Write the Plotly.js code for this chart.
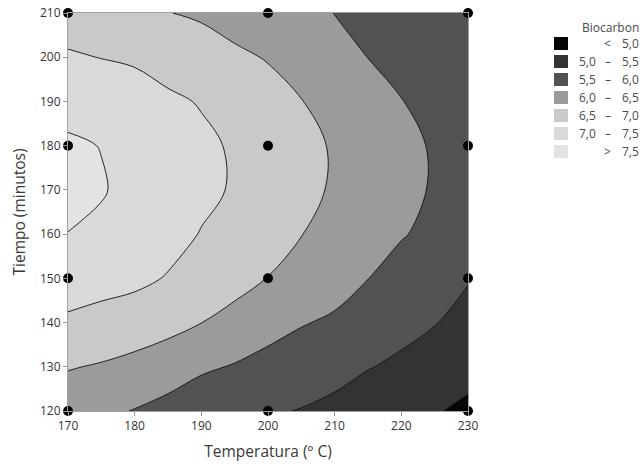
<!DOCTYPE html>
<html>
<head>
<meta charset="utf-8">
<script src="https://cdn.plot.ly/plotly-3.0.1.min.js"></script>
<style>html,body{margin:0;padding:0;background:#fff;}#chart{width:644px;height:467px;}</style>
</head>
<body>
<div id="chart"></div>
<script>
// Temperature grid (°C) and time grid (minutes)
var temperatura = [170,175,180,185,190,195,200,205,210,215,220,225,230];
var tiempo = [120,130,140,150,160,170,180,190,200,210];

// Biocarbon values, one row per time value
var zRow120 = [6.20,6.10,5.98,5.84,5.70,5.62,5.55,5.48,5.38,5.25,5.16,5.03,4.92];
var zRow130 = [6.53,6.46,6.37,6.25,6.07,5.97,5.85,5.75,5.66,5.52,5.42,5.28,5.13];
var zRow140 = [6.92,6.85,6.75,6.645,6.505,6.33,6.17,6.03,5.93,5.76,5.63,5.52,5.34];
var zRow150 = [7.25,7.16,7.11,6.97,6.77,6.68,6.49,6.28,6.19,6.005,5.83,5.73,5.53];
var zRow160 = [7.495,7.42,7.29,7.16,6.98,6.86,6.69,6.51,6.36,6.20,6.03,5.89,5.68];
var zRow170 = [7.59,7.53,7.377,7.237,7.10,6.96,6.79,6.62,6.45,6.29,6.12,5.96,5.77];
var zRow180 = [7.56,7.49,7.35,7.21,7.09,6.95,6.79,6.62,6.46,6.29,6.11,5.96,5.79];
var zRow190 = [7.36,7.30,7.20,7.08,6.97,6.83,6.68,6.51,6.39,6.19,6.01,5.90,5.75];
var zRow200 = [7.05,6.99,6.94,6.81,6.71,6.59,6.47,6.29,6.23,5.995,5.87,5.80,5.67];
var zRow210 = [6.78,6.70,6.62,6.51,6.44,6.30,6.20,6.10,5.995,5.89,5.75,5.65,5.57];

// Experimental design points
var puntosT = [170,170,170,170,200,200,200,200,230,230,230,230];
var puntosTiempo = [120,150,180,210,120,150,180,210,120,150,180,210];

// Legend bands
var bandColors = ['#050505','#333333','#525252','#9b9b9b','#c9c9c9','#d9d9d9','#e3e3e3'];
var bandLow = ['', '5,0','5,5','6,0','6,5','7,0',''];
var bandSym = ['<','–','–','–','–','–','>'];
var bandHigh = ['5,0','5,5','6,0','6,5','7,0','7,5','7,5'];

var z = [zRow120,zRow130,zRow140,zRow150,zRow160,zRow170,zRow180,zRow190,zRow200,zRow210];

// stepwise colorscale: 7 bands evaluated at fractions k/6
var cs = [];
for (var k = 0; k < bandColors.length; k++) {
  var lo = Math.max(0, (k - 0.5) / 6), hi = Math.min(1, (k + 0.5) / 6);
  cs.push([lo, bandColors[k]]);
  cs.push([hi, bandColors[k]]);
}

var contour = {
  type: 'contour',
  x: temperatura, y: tiempo, z: z,
  colorscale: cs,
  showscale: false,
  autocontour: false,
  contours: {start: 5.0, end: 7.5, size: 0.5, coloring: 'fill', showlines: true},
  line: {color: '#111', width: 0.9, smoothing: 1},
  hoverinfo: 'skip'
};

var dots = {
  type: 'scatter', mode: 'markers',
  x: puntosT, y: puntosTiempo,
  marker: {color: '#000', size: 10},
  cliponaxis: false,
  hoverinfo: 'skip'
};

var FONT = 'Open Sans, Noto Sans, sans-serif';
var L = 68, T = 13, W = 400, H = 398;
function px2x(p){ return (p - L) / W; }
function py2y(p){ return (T + H - p) / H; }

var shapes = [], annotations = [];
var legFont = {family: FONT, size: 12, color: '#4a4a4a'};
annotations.push({xref:'paper', yref:'paper', x: px2x(610), y: py2y(27), text:'Biocarbon',
  showarrow:false, xanchor:'center', yanchor:'middle', font: legFont});
for (var i = 0; i < bandColors.length; i++) {
  var cy = 43.5 + 18 * i;
  shapes.push({type:'rect', xref:'paper', yref:'paper', x0: px2x(554), x1: px2x(568),
    y0: py2y(cy + 6.5), y1: py2y(cy - 6.5), fillcolor: bandColors[i], line:{width:0}});
  if (bandLow[i]) annotations.push({xref:'paper', yref:'paper', x: px2x(598), y: py2y(cy), text: bandLow[i],
    showarrow:false, xanchor:'right', yanchor:'middle', font: legFont});
  annotations.push({xref:'paper', yref:'paper', x: px2x(607.5), y: py2y(cy), text: bandSym[i],
    showarrow:false, xanchor:'center', yanchor:'middle', font: legFont});
  annotations.push({xref:'paper', yref:'paper', x: px2x(641), y: py2y(cy), text: bandHigh[i],
    showarrow:false, xanchor:'right', yanchor:'middle', font: legFont});
}

var layout = {
  width: 644, height: 467,
  margin: {l: L, r: 644 - L - W, t: T, b: 467 - T - H},
  paper_bgcolor: '#fff', plot_bgcolor: '#fff',
  showlegend: false,
  font: {family: FONT, color: '#333'},
  xaxis: {
    range: [170, 230], tickvals: [170,180,190,200,210,220,230],
    ticks: 'outside', ticklen: 4, tickcolor: '#999', showgrid: false, zeroline: false,
    showline: true, linecolor: '#a0a0a0', linewidth: 1, mirror: true,
    tickfont: {family: FONT, size: 12, color: '#333'},
    title: {text: 'Temperatura (º C)', font: {family: FONT, size: 15.5, color: '#3a3a3a'}, standoff: 12},
    automargin: false
  },
  yaxis: {
    range: [120, 210], tickvals: [120,130,140,150,160,170,180,190,200,210],
    ticks: 'outside', ticklen: 4, tickcolor: '#999', showgrid: false, zeroline: false,
    showline: true, linecolor: '#a0a0a0', linewidth: 1, mirror: true,
    tickfont: {family: FONT, size: 12, color: '#333'},
    title: {text: 'Tiempo (minutos)', font: {family: FONT, size: 15.5, color: '#3a3a3a'}, standoff: 10},
    automargin: false
  },
  shapes: shapes,
  annotations: annotations
};

Plotly.newPlot('chart', [contour, dots], layout, {staticPlot: true, displayModeBar: false});
</script>
</body>
</html>
